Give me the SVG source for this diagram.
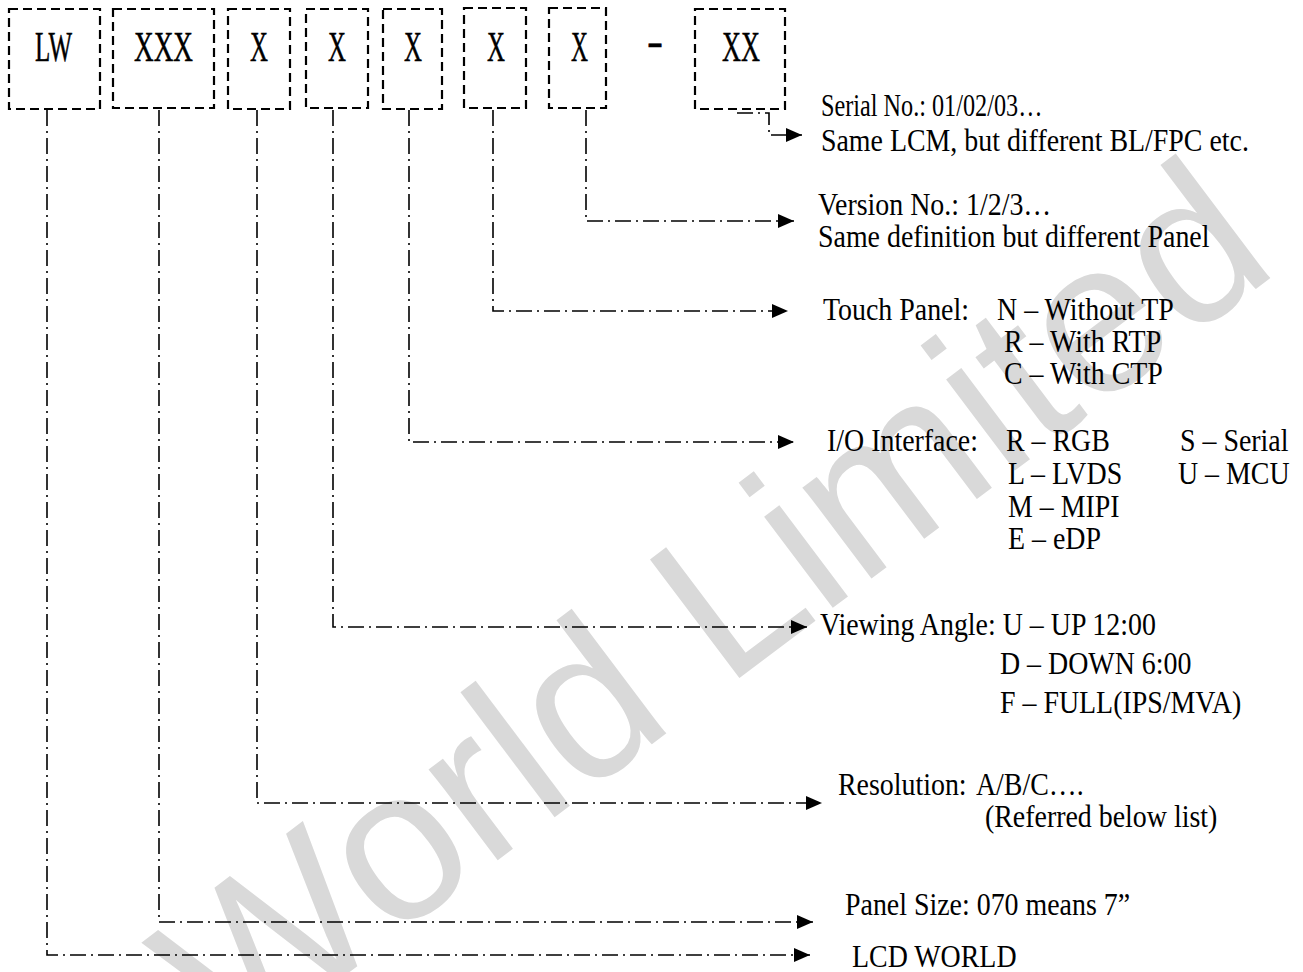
<svg xmlns="http://www.w3.org/2000/svg" width="1303" height="972" viewBox="0 0 1303 972">
<style>
.box{fill:none;stroke:#000;stroke-width:2.2;stroke-dasharray:9 5}
.code{font-family:"Liberation Serif",serif;font-size:42px;fill:#000;stroke:#000;stroke-width:0.5}
.lbl{font-family:"Liberation Serif",serif;font-size:31px;fill:#000}
.conn{fill:none;stroke:#000;stroke-width:1.6;stroke-dasharray:16 5 2 5}
.wm{font-family:"Liberation Sans",sans-serif;font-size:216px;fill:#d9d9d9}
</style>
<defs>
<marker id="arr" markerUnits="userSpaceOnUse" markerWidth="17" markerHeight="14" refX="16" refY="7" orient="auto">
<path d="M0,0 L16,7 L0,14 Z" fill="#000"/>
</marker>
</defs>
<rect width="1303" height="972" fill="#fff"/>
<text class="wm" transform="translate(230,1062) rotate(-37)">World Limited</text>

<g id="node-lw"><rect class="box" x="9" y="9" width="91" height="100"/><text class="code" x="35" y="61" textLength="37" lengthAdjust="spacingAndGlyphs">LW</text></g>
<g id="node-xxx"><rect class="box" x="113" y="9" width="101" height="99"/><text class="code" x="134" y="61" textLength="59" lengthAdjust="spacingAndGlyphs">XXX</text></g>
<g id="node-x1"><rect class="box" x="228" y="9" width="62" height="100"/><text class="code" x="250" y="61" textLength="18" lengthAdjust="spacingAndGlyphs">X</text></g>
<g id="node-x2"><rect class="box" x="306" y="9" width="62" height="99"/><text class="code" x="328" y="61" textLength="18" lengthAdjust="spacingAndGlyphs">X</text></g>
<g id="node-x3"><rect class="box" x="383" y="9" width="59" height="100"/><text class="code" x="404" y="61" textLength="18" lengthAdjust="spacingAndGlyphs">X</text></g>
<g id="node-x4"><rect class="box" x="464" y="8" width="62" height="100"/><text class="code" x="487" y="61" textLength="18" lengthAdjust="spacingAndGlyphs">X</text></g>
<g id="node-x5"><rect class="box" x="549" y="8" width="57" height="100"/><text class="code" x="571" y="61" textLength="17" lengthAdjust="spacingAndGlyphs">X</text></g>
<g id="node-dash"><text class="code" x="647" y="55" textLength="16" lengthAdjust="spacingAndGlyphs">-</text></g>
<g id="node-xx"><rect class="box" x="695" y="9" width="90" height="100"/><text class="code" x="722" y="61" textLength="38" lengthAdjust="spacingAndGlyphs">XX</text></g>

<g id="connectors">
<path class="conn" d="M737,113 H769 V135 H802" marker-end="url(#arr)"/>
<path class="conn" d="M586,110 V221 H794" marker-end="url(#arr)"/>
<path class="conn" d="M493,110 V311 H788" marker-end="url(#arr)"/>
<path class="conn" d="M409,110 V442 H794" marker-end="url(#arr)"/>
<path class="conn" d="M333,110 V627 H807" marker-end="url(#arr)"/>
<path class="conn" d="M257,110 V803 H822" marker-end="url(#arr)"/>
<path class="conn" d="M159,110 V922 H813" marker-end="url(#arr)"/>
<path class="conn" d="M47,110 V955 H810" marker-end="url(#arr)"/>
</g>

<g transform="scale(0.9,1)">
<g id="label-serial"><text class="lbl" x="912.2" y="116" textLength="246" lengthAdjust="spacingAndGlyphs">Serial No.: 01/02/03…</text><text class="lbl" x="912.2" y="151">Same LCM, but different BL/FPC etc.</text></g>
<g id="label-version"><text class="lbl" x="908.9" y="215">Version No.: 1/2/3…</text><text class="lbl" x="908.9" y="247">Same definition but different Panel</text></g>
<g id="label-touch"><text class="lbl" x="914.4" y="320">Touch Panel:</text><text class="lbl" x="1107.8" y="320">N – Without TP</text><text class="lbl" x="1115.6" y="352">R – With RTP</text><text class="lbl" x="1115.6" y="384">C – With CTP</text></g>
<g id="label-io"><text class="lbl" x="918.9" y="451">I/O Interface:</text><text class="lbl" x="1117.8" y="451">R – RGB</text><text class="lbl" x="1311.1" y="451">S – Serial</text><text class="lbl" x="1120" y="484">L – LVDS</text><text class="lbl" x="1308.9" y="484">U – MCU</text><text class="lbl" x="1120" y="517">M – MIPI</text><text class="lbl" x="1120" y="549">E – eDP</text></g>
<g id="label-view"><text class="lbl" x="911.1" y="635">Viewing Angle: U – UP 12:00</text><text class="lbl" x="1111.1" y="674">D – DOWN 6:00</text><text class="lbl" x="1111.1" y="713">F – FULL(IPS/MVA)</text></g>
<g id="label-res"><text class="lbl" x="931.1" y="795">Resolution:</text><text class="lbl" x="1084.4" y="795">A/B/C….</text><text class="lbl" x="1094.4" y="827">(Referred below list)</text></g>
<g id="label-size"><text class="lbl" x="938.9" y="915">Panel Size: 070 means 7”</text></g>
<g id="label-lcd"><text class="lbl" x="946.7" y="967">LCD WORLD</text></g>
</g>
</svg>
